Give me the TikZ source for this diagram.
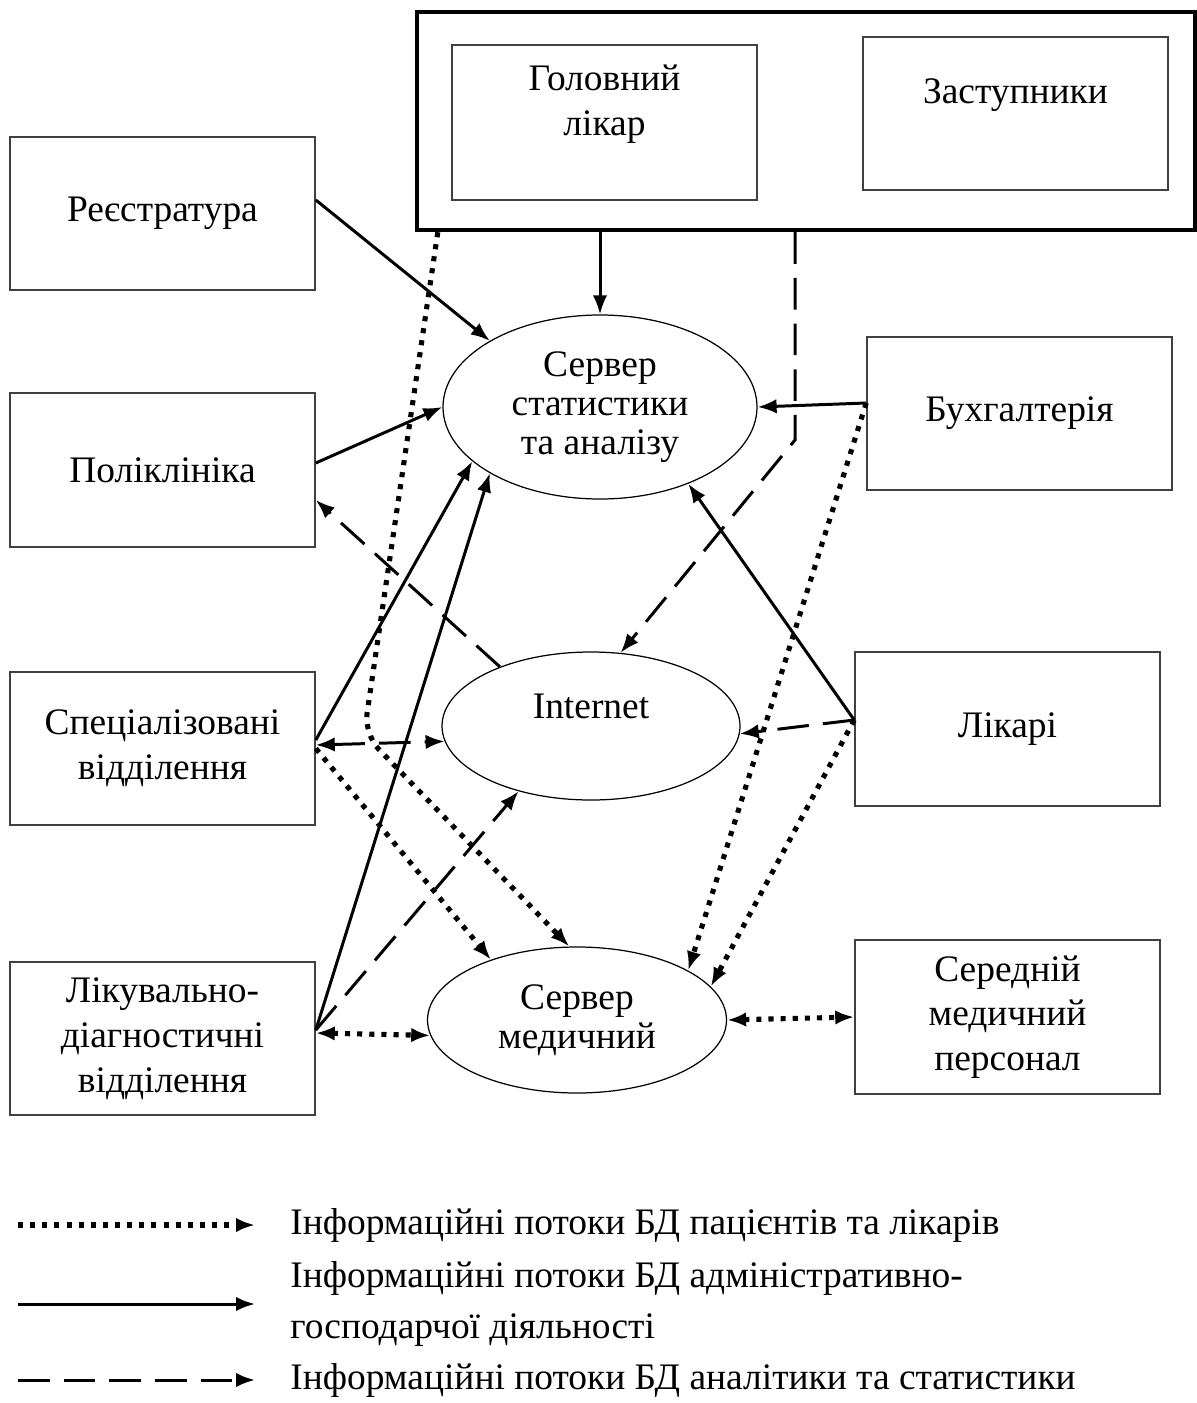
\documentclass[tikz,border=0pt]{standalone}
\usepackage{fontspec}
\setmainfont{Liberation Serif}
\usetikzlibrary{arrows.meta,shapes.geometric}

\begin{document}
\begin{tikzpicture}[
  font=\fontsize{21.3}{25.5}\selectfont,
  >={Latex[length=3.8mm,width=2.9mm]},
  block/.style={draw=black!75,line width=0.9pt,minimum width=6.1cm,minimum height=3.07cm,align=center,inner sep=0pt},
  server/.style={draw,ellipse,line width=0.7pt,inner sep=0pt,align=center,font=\fontsize{21.3}{22}\selectfont},
  solidflow/.style={->,line width=1.7pt},
  dashflow/.style={->,line width=1.7pt,dash pattern=on 18pt off 8pt},
  dotflow/.style={->,line width=2.9pt,dash pattern=on 2.9pt off 4pt}
]
\useasboundingbox (0,0) rectangle (23.94,-28.06);

% administration
\node[block,minimum height=3.1cm] (chief) at (12.09,-2.45) {Головний\\лікар\\\mbox{}};
\node[block] (deputy) at (20.31,-2.27) {Заступники\\\mbox{}};
\node[draw,line width=2.5pt,minimum width=15.56cm,minimum height=4.36cm] (admin) at (16.12,-2.42) {};

% departments
\node[block] (reg) at (3.25,-4.27) {Реєстратура};
\node[block] (poly) at (3.25,-9.4) {Поліклініка};
\node[block] (spec) at (3.25,-14.97) {Спеціалізовані\\відділення};
\node[block] (diag) at (3.25,-20.77) {Лікувально-\\діагностичні\\відділення};
\node[block] (buh) at (20.39,-8.27) {Бухгалтерія};
\node[block] (doc) at (20.15,-14.58) {Лікарі};
\node[block] (nurse) at (20.15,-20.34) {Середній\\медичний\\персонал};

% servers
\node[server,minimum width=6.28cm,minimum height=3.68cm] (stat) at (12.0,-8.14) {Сервер\\статистики\\та аналізу};
\node[server,minimum width=5.96cm,minimum height=2.96cm] (inet) at (11.82,-14.52) {Internet\\\mbox{}};
\node[server,minimum width=5.98cm,minimum height=2.92cm] (med) at (11.54,-20.4) {Сервер\\медичний};

% solid flows
\draw[solidflow] ([yshift=2.7mm]reg.east) -- (stat.149);
\draw[solidflow] ([yshift=1.4mm]poly.east) -- (stat.180);
\draw[solidflow] (stat.north |- admin.south) -- (stat.north);
\draw[solidflow] ([yshift=2.1mm]buh.west) -- (stat.east);
\draw[solidflow] ([yshift=1.8mm]doc.west) -- (stat.319);
\draw[solidflow] ([yshift=1.7mm]spec.east) -- (stat.203);
\draw[solidflow] ([yshift=1.7mm]diag.east) -- (stat.211);

% dashed flows
\coordinate (bend) at (15.9,-8.8);
\draw[dashflow] (inet.147) -- ([yshift=-6mm]poly.east);
\draw[dashflow] (admin.south -| bend) -- (bend) -- (inet.68);
\draw[dashflow] ([yshift=1.8mm]doc.west) -- (inet.357);
\draw[dashflow,<->] ([yshift=0.7mm]spec.east) -- (inet.186);
\draw[dashflow] ([yshift=1.7mm]diag.east) -- (inet.222);

% dotted flows
\coordinate (loop) at (7.28,-14.68);
\draw[dotflow,rounded corners=12pt] ([xshift=4.6mm]admin.south west) -- (loop) -- (med.96);
\draw[dotflow] (spec.east) -- (med.145);
\draw[dotflow] ([yshift=2.1mm]buh.west) -- (med.24);
\draw[dotflow] ([yshift=1.8mm]doc.west) -- (med.14);
\draw[dotflow,<->] ([yshift=1.1mm]diag.east) -- (med.186);
\draw[dotflow,<->] (med.east) -- (nurse.west);

% legend
\node[anchor=west,inner sep=0pt] (keydot) at (5.8,-24.5) {Інформаційні потоки БД пацієнтів та лікарів};
\node[anchor=west,inner sep=0pt,align=left,font=\fontsize{21.3}{29.5}\selectfont] (keysolid) at (5.8,-26.08) {Інформаційні потоки БД адміністративно-\\господарчої діяльності};
\node[anchor=west,inner sep=0pt] (keydash) at (5.8,-27.6) {Інформаційні потоки БД аналітики та статистики};
\draw[dotflow] ([xshift=-5.44cm]keydot.west) -- ([xshift=-7mm]keydot.west);
\draw[solidflow] ([xshift=-5.44cm]keysolid.west) -- ([xshift=-7mm]keysolid.west);
\draw[dashflow] ([xshift=-5.44cm]keydash.west) -- ([xshift=-7mm]keydash.west);
\end{tikzpicture}
\end{document}
